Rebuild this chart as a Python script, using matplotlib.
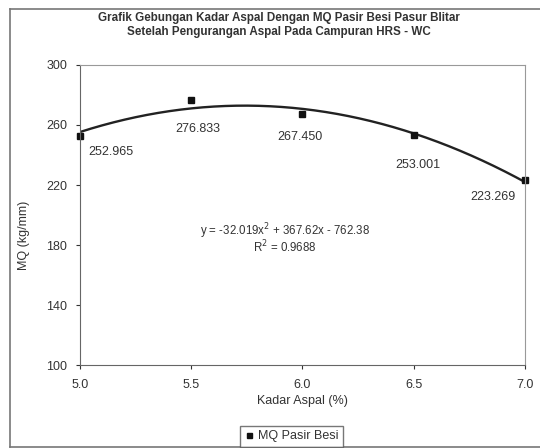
import numpy as np
import matplotlib
matplotlib.use("Agg")
import matplotlib.pyplot as plt
from matplotlib.lines import Line2D

# data
kadar_aspal = [5.0, 5.5, 6.0, 6.5, 7.0]
mq_pasir_besi = [252.965, 276.833, 267.450, 253.001, 223.269]
label_text = ["252.965", "276.833", "267.450", "253.001", "223.269"]
label_offset = [(22, -12), (5, -21), (-1.5, -17), (3, -21), (-23, -12)]
x_ticks = [5.0, 5.5, 6.0, 6.5, 7.0]
y_ticks = [100, 140, 180, 220, 260, 300]

plt.rcParams['font.family'] = ['Liberation Sans', 'DejaVu Sans']
txt = '#333333'

fig = plt.figure(figsize=(5.4, 4.48), dpi=100)
ax = fig.add_axes([0.148, 0.185, 0.824, 0.67])

# polynomial trendline (order 2) from the data
coef = np.polyfit(kadar_aspal, mq_pasir_besi, 2)
xs = np.linspace(5.0, 7.0, 200)
ax.plot(xs, np.polyval(coef, xs), color='#222222', lw=1.7)

ax.plot(kadar_aspal, mq_pasir_besi, 's', color='#111111', ms=4.5, ls='none',
        clip_on=False, label='MQ Pasir Besi')

for x, y, t, off in zip(kadar_aspal, mq_pasir_besi, label_text, label_offset):
    ax.annotate(t, (x, y), xytext=off, textcoords='offset points',
                ha='center', va='center', fontsize=9, color=txt)

ax.text(5.92, 189.5, 'y = -32.019x$^2$ + 367.62x - 762.38', ha='center',
        va='center', fontsize=8.3, color=txt)
ax.text(5.92, 178.5, 'R$^2$ = 0.9688', ha='center', va='center',
        fontsize=8.3, color=txt)

ax.set_xlim(5.0, 7.0)
ax.set_ylim(100, 300)
ax.set_xticks(x_ticks)
ax.set_xticklabels([f'{v:.1f}' for v in x_ticks])
ax.set_yticks(y_ticks)
ax.tick_params(labelsize=9, colors=txt, length=3, width=0.8)
ax.tick_params(axis='x', pad=7)
ax.tick_params(axis='y', pad=6)
for s in ax.spines.values():
    s.set_color('#999999')
    s.set_linewidth(0.8)
ax.spines['left'].set_color('#666666')
ax.spines['bottom'].set_color('#666666')

ax.set_xlabel('Kadar Aspal (%)', fontsize=9, color=txt, labelpad=3)
ax.set_ylabel('MQ (kg/mm)', fontsize=9, color=txt)
ax.yaxis.set_label_coords(-0.112, 0.433)

fig.text(0.516, 0.96, 'Grafik Gebungan Kadar Aspal Dengan MQ Pasir Besi Pasur Blitar',
         ha='center', va='center', fontsize=8.4, fontweight='bold', color=txt)
fig.text(0.516, 0.928, 'Setelah Pengurangan Aspal Pada Campuran HRS - WC',
         ha='center', va='center', fontsize=8.4, fontweight='bold', color=txt)

fig.legend(loc='center', bbox_to_anchor=(0.54, 0.026), fontsize=9,
           frameon=True, fancybox=False, edgecolor='#555555',
           handlelength=0.7, handletextpad=0.4, borderpad=0.35,
           markerscale=0.8, labelcolor=txt)

# outer chart frame (left, top, bottom edges visible)
frame = dict(color='#777777', lw=1.2, transform=fig.transFigure)
fig.add_artist(Line2D([0.019, 0.019], [0.002, 0.98], **frame))
fig.add_artist(Line2D([0.019, 1.0], [0.98, 0.98], **frame))
fig.add_artist(Line2D([0.019, 1.0], [0.002, 0.002], **frame))

fig.savefig('out.png', dpi=100)
